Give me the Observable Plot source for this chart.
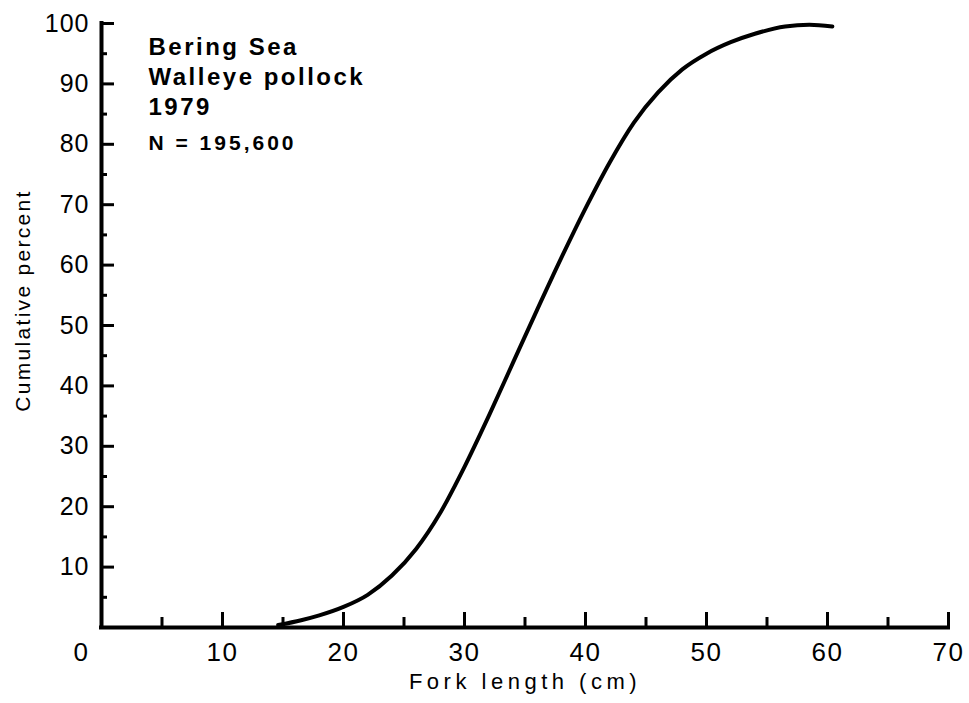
<!DOCTYPE html>
<html>
<head>
<meta charset="utf-8">
<script src="https://cdn.jsdelivr.net/npm/d3@7"></script>
<script src="https://cdn.jsdelivr.net/npm/@observablehq/plot@0.6"></script>
<style>
  html, body { margin: 0; padding: 0; background: #fff; }
  #chart { width: 969px; height: 703px; }
</style>
</head>
<body>
<div id="chart"></div>
<script>
// ---- data ----
const forkLength = [14.6, 16.5, 18, 20, 22, 24, 26, 28, 30, 32, 34, 36, 38, 40, 42, 44, 46, 48, 50, 52, 54, 56.5, 58.5, 60.4];
const cumulativePercent = [0.4, 1.2, 2.0, 3.4, 5.4, 8.6, 13.0, 19.0, 26.6, 35.0, 43.8, 52.6, 61.2, 69.4, 77.0, 83.6, 88.6, 92.4, 95.0, 96.9, 98.3, 99.5, 99.8, 99.5];

const xMajorTicks = [10, 20, 30, 40, 50, 60, 70];
const xMinorTicks = [5, 15, 25, 35, 45, 55, 65];
const yMajorTicks = [10, 20, 30, 40, 50, 60, 70, 80, 90, 100];
const yMinorTicks = [5, 15, 25, 35, 45, 55, 65, 75, 85, 95];
const xOriginLabel = [0];

const xTitle = "Fork length (cm)";
const yTitle = "Cumulative percent";
const titleLines = ["Bering Sea", "Walleye pollock", "1979"];
const sampleSize = "N = 195,600";

const curve = forkLength.map((x, i) => ({x, y: cumulativePercent[i]}));
const font = "'Liberation Sans', Arial, Helvetica, sans-serif";

const svg = Plot.plot({
  width: 969,
  height: 703,
  marginLeft: 101,
  marginRight: 21,
  marginTop: 23,
  marginBottom: 76,
  style: {fontFamily: font, background: "#fff", color: "#000"},
  x: {domain: [0, 70]},
  y: {domain: [0, 100]},
  marks: [
    // inward ticks
    Plot.axisX(xMajorTicks, {tickSize: -15, strokeWidth: 3, tickFormat: () => "", label: null}),
    Plot.axisX(xMinorTicks, {tickSize: -10, strokeWidth: 3, tickFormat: () => "", label: null}),
    Plot.axisY(yMajorTicks, {tickSize: -13, strokeWidth: 3, tickFormat: () => "", label: null}),
    Plot.axisY(yMinorTicks, {tickSize: -6, strokeWidth: 3, tickFormat: () => "", label: null}),
    // tick labels
    Plot.axisX(xMajorTicks, {tickSize: 0, tickPadding: 15, fontSize: 26, label: null}),
    Plot.text(xOriginLabel, {x: d => d, frameAnchor: "bottom", dx: -20, dy: 15, lineAnchor: "top", fontSize: 26}),
    Plot.axisY(yMajorTicks, {tickSize: 0, tickPadding: 12, fontSize: 25, label: null}),
    // axis lines
    Plot.ruleY([0], {strokeWidth: 4, strokeLinecap: "square"}),
    Plot.ruleX([0], {strokeWidth: 4, strokeLinecap: "square"}),
    // curve
    Plot.line(curve, {x: "x", y: "y", curve: "monotone-x", stroke: "#000", strokeWidth: 4, strokeLinecap: "round"}),
    // axis titles
    Plot.text([xTitle], {frameAnchor: "bottom", textAnchor: "middle", dy: 54, dx: 0, lineAnchor: "middle", fontSize: 22}),
    Plot.text([yTitle], {frameAnchor: "left", textAnchor: "middle", rotate: -90, dx: -78, dy: -25, lineAnchor: "middle", fontSize: 21}),
    // annotation
    Plot.text([titleLines.join("\n")], {frameAnchor: "top-left", textAnchor: "start", lineAnchor: "top", dx: 47, dy: 10, lineHeight: 1.25, fontSize: 24, fontWeight: "bold"}),
    Plot.text([sampleSize], {frameAnchor: "top-left", textAnchor: "start", lineAnchor: "top", dx: 47, dy: 112, fontSize: 21, fontWeight: "bold"})
  ]
});

// letter spacing to match the wide lettering of the original
const xs = new Set(xMajorTicks.concat(xOriginLabel).map(String));
const ys = new Set(yMajorTicks.map(String));
const annotText = titleLines.join("");
svg.querySelectorAll("text").forEach(t => {
  const s = t.textContent;
  let ls = null;
  if (s === xTitle) ls = "4.5px";
  else if (s === yTitle) ls = "2.3px";
  else if (s === annotText) ls = "2.5px";
  else if (s === sampleSize) ls = "3px";
  else if (t.closest('g[aria-label="y-axis tick label"]') && ys.has(s)) ls = "1px";
  else if (xs.has(s)) ls = "1.5px";
  if (ls) t.style.letterSpacing = ls;
});
document.getElementById("chart").appendChild(svg);
</script>
</body>
</html>
